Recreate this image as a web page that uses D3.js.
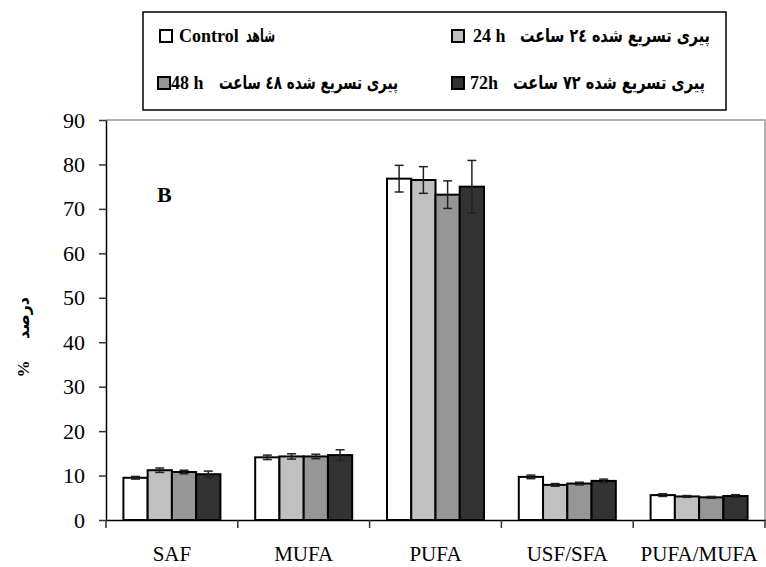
<!DOCTYPE html>
<html><head><meta charset="utf-8">
<script src="https://cdn.jsdelivr.net/npm/d3@7"></script>
<style>body{margin:0;background:#fff}svg{display:block}</style>
</head><body>
<div id="chart"></div>
<script>
const categories = ["SAF", "MUFA", "PUFA", "USF/SFA", "PUFA/MUFA"];
const seriesNames = ["Control", "24 h", "48 h", "72h"];
const control = [9.5, 14.1, 76.8, 9.7, 5.6];
const h24 = [11.2, 14.3, 76.5, 7.9, 5.3];
const h48 = [10.8, 14.3, 73.2, 8.2, 5.1];
const h72 = [10.3, 14.6, 75.0, 8.8, 5.4];
const errControl = [0.3, 0.5, 3.0, 0.4, 0.3];
const err24 = [0.5, 0.6, 3.0, 0.3, 0.2];
const err48 = [0.4, 0.5, 3.1, 0.3, 0.2];
const err72 = [0.7, 1.2, 5.9, 0.4, 0.3];
const yTicks = [0, 10, 20, 30, 40, 50, 60, 70, 80, 90];
const colors = ["#ffffff", "#c0c0c0", "#969696", "#333333"];
const legendLatin = ["Control", "24 h", "48 h", "72h"];
const legendPersian = ["شاهد", "پیری تسریع شده ٢٤ ساعت", "پیری تسریع شده ٤٨ ساعت", "پیری تسریع شده ٧٢ ساعت"];

const values = [control, h24, h48, h72];
const errors = [errControl, err24, err48, err72];

const W = 766, H = 567;
const L = 106, R = 765, T = 120, B = 520;
const svg = d3.select("#chart").append("svg").attr("width", W).attr("height", H);
const serif = "'Liberation Serif','Times New Roman',serif";
const arab = "'DejaVu Sans',sans-serif";

const x = d3.scaleBand().domain(categories).range([L, R]).paddingInner(0.264).paddingOuter(0.132);
const xs = d3.scaleBand().domain(seriesNames).range([0, x.bandwidth()]).padding(0);
const y = d3.scaleLinear().domain([0, 90]).range([B, T]);

// plot area border (top/right)
svg.append("path").attr("d", `M${L},${T}H${R}V${B}`).attr("fill", "none").attr("stroke", "#9a9a9a").attr("stroke-width", 1.5);

// bars
const data = [];
categories.forEach((c, i) => seriesNames.forEach((s, j) => data.push({c, s, j, v: values[j][i], e: errors[j][i]})));
const g = svg.append("g");
g.selectAll("rect").data(data).join("rect")
  .attr("x", d => x(d.c) + xs(d.s))
  .attr("y", d => y(d.v))
  .attr("width", xs.bandwidth())
  .attr("height", d => y(0) - y(d.v))
  .attr("fill", d => colors[d.j])
  .attr("stroke", "#000").attr("stroke-width", 2);

// error bars
const eb = svg.append("g").attr("stroke", "#222").attr("stroke-width", 1.5);
data.forEach(d => {
  const cx = x(d.c) + xs(d.s) + xs.bandwidth() / 2;
  eb.append("line").attr("x1", cx).attr("x2", cx).attr("y1", y(d.v + d.e)).attr("y2", y(d.v - d.e));
  eb.append("line").attr("x1", cx - 4.5).attr("x2", cx + 4.5).attr("y1", y(d.v + d.e)).attr("y2", y(d.v + d.e));
  eb.append("line").attr("x1", cx - 4.5).attr("x2", cx + 4.5).attr("y1", y(d.v - d.e)).attr("y2", y(d.v - d.e));
});

// y axis
const yAxis = svg.append("g").attr("transform", `translate(${L},0)`)
  .call(d3.axisLeft(y).tickValues(yTicks).tickSize(7).tickSizeOuter(0).tickPadding(14));
yAxis.select(".domain").attr("stroke", "#000").attr("stroke-width", 1.5);
yAxis.selectAll(".tick line").attr("stroke", "#333").attr("stroke-width", 1.5);
yAxis.selectAll("text").attr("font-family", serif).attr("font-size", 22).attr("fill", "#000");

// x axis
const xAxis = svg.append("g").attr("transform", `translate(0,${B})`)
  .call(d3.axisBottom(x).tickSize(0).tickPadding(26));
xAxis.select(".domain").attr("stroke", "#000").attr("stroke-width", 1.5);
xAxis.selectAll("text").attr("font-family", serif).attr("font-size", 21).attr("fill", "#000");
// boundary ticks
const bounds = categories.map(c => x(c) - x.step() * x.paddingInner() / 2).concat([R]);
svg.append("g").selectAll("line").data(bounds).join("line")
  .attr("x1", d => d).attr("x2", d => d).attr("y1", B).attr("y2", B + 8)
  .attr("stroke", "#333").attr("stroke-width", 1.5);

// B label
svg.append("text").attr("x", 157).attr("y", 202).text("B")
  .attr("font-family", serif).attr("font-weight", "bold").attr("font-size", 22);

// y axis label
svg.append("text").attr("transform", "translate(29,369) rotate(-90)").attr("text-anchor", "middle")
  .attr("font-family", serif).attr("font-weight", "bold").attr("font-size", 17).text("%");
svg.append("text").attr("transform", "translate(29,318) rotate(-90)").attr("text-anchor", "middle")
  .attr("font-family", arab).attr("font-weight", "bold").attr("font-size", 16).text("درصد");

// legend
svg.append("rect").attr("x", 143).attr("y", 12).attr("width", 583).attr("height", 98)
  .attr("fill", "#fff").attr("stroke", "#000").attr("stroke-width", 1.5);
const leg = [
  {mx: 160, my: 30, lx: 179, ax: 246, aw: 29, ty: 42},
  {mx: 452, my: 30, lx: 473, ax: 520, aw: 190, ty: 42},
  {mx: 158, my: 77, lx: 171, ax: 219, aw: 179, ty: 89},
  {mx: 452, my: 77, lx: 470, ax: 513, aw: 192, ty: 89}
];
leg.forEach((p, i) => {
  svg.append("rect").attr("x", p.mx).attr("y", p.my).attr("width", 12).attr("height", 12)
    .attr("fill", colors[i]).attr("stroke", "#000").attr("stroke-width", 2);
  svg.append("text").attr("x", p.lx).attr("y", p.ty).text(legendLatin[i])
    .attr("font-family", serif).attr("font-weight", "bold").attr("font-size", 18);
  svg.append("text").attr("x", p.ax).attr("y", p.ty).text(legendPersian[i])
    .attr("font-family", arab).attr("font-weight", "bold").attr("font-size", 19)
    .attr("textLength", p.aw).attr("lengthAdjust", "spacingAndGlyphs");
});
</script>
</body></html>
